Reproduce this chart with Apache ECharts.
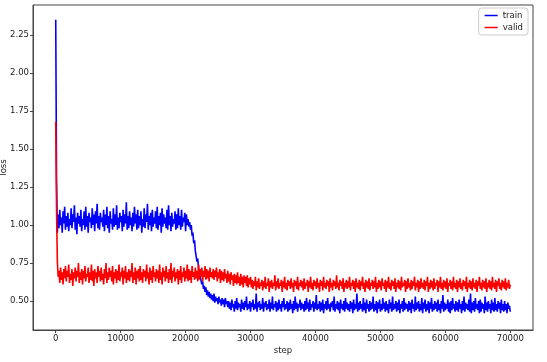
<!DOCTYPE html>
<html>
<head>
<meta charset="utf-8">
<script src="https://cdn.jsdelivr.net/npm/echarts@6/dist/echarts.min.js"></script>
<style>html,body{margin:0;padding:0;background:#fff}#c{width:547px;height:362px}</style>
</head>
<body>
<div id="c"></div>
<script>
const STEP_SIZE = 125;
const xTicks = [0, 10000, 20000, 30000, 40000, 50000, 60000, 70000];
const yTicks = [0.50, 0.75, 1.00, 1.25, 1.50, 1.75, 2.00, 2.25];
const seriesNames = ['train', 'valid'];

const trainLoss = [
  2.35, 1.30, 0.95,
  1.07,0.98,1.10,1.00,1.05,0.95,1.09,1.01,1.12,0.97,
  1.06,0.99,1.08,0.96,1.04,1.00,1.11,0.98,1.07,1.02,
  1.13,0.97,1.05,0.94,1.08,1.01,1.06,0.99,1.10,0.96,
  1.04,1.00,1.09,0.97,1.12,0.99,1.06,0.95,1.08,1.02,
  1.05,0.98,1.11,1.00,1.07,0.96,1.09,1.01,1.14,0.98,
  1.06,0.97,1.08,1.02,1.05,0.99,1.10,0.96,1.07,1.00,
  1.12,0.98,1.06,0.95,1.09,1.01,1.04,0.97,1.11,0.99,
  1.07,1.00,1.13,0.97,1.05,0.98,1.08,1.02,1.06,0.96,
  1.10,0.99,1.07,1.01,1.15,0.97,1.06,0.98,1.09,1.00,
  1.05,0.96,1.08,0.99,1.12,1.01,1.07,0.97,1.10,0.98,
  1.06,1.00,1.09,0.95,1.04,0.99,1.11,0.98,1.07,1.02,
  1.14,0.97,1.06,1.00,1.08,0.96,1.10,0.99,1.05,1.01,
  1.09,0.98,1.12,0.97,1.06,1.00,1.08,0.95,1.11,0.99,
  1.07,1.01,1.05,0.98,1.10,0.97,1.13,1.00,1.06,0.96,
  1.08,0.99,1.04,1.01,1.09,0.97,1.07,0.98,1.11,1.00,
  1.06,0.97,1.10,0.99,1.05,1.02,1.08,0.96,1.07,1.00,
  1.04,0.99,
  1.02,0.97,1.00,0.93,0.95,0.88,0.90,0.83,0.84,0.76,
  0.78,0.71,0.72,0.66,0.67,0.61,0.63,0.58,0.60,0.56,
  0.59,0.54,0.57,0.53,0.56,0.52,0.55,0.51,0.54,0.50,
  0.55,0.49,0.53,0.50,0.52,0.48,0.53,0.49,0.51,0.47,
  0.52,0.48,0.51,0.46,0.52,0.48,0.50,0.46,
  0.50,0.45,0.49,0.44,0.51,0.46,0.48,0.43,0.50,0.45,
  0.52,0.44,0.49,0.46,0.48,0.43,0.51,0.45,0.49,0.44,
  0.50,0.46,0.53,0.44,0.48,0.45,0.50,0.43,0.49,0.46,
  0.51,0.44,0.48,0.45,0.55,0.43,0.49,0.46,0.50,0.44,
  0.48,0.45,0.52,0.43,0.49,0.46,0.50,0.44,0.48,0.45,
  0.51,0.43,0.49,0.45,0.53,0.44,0.48,0.46,0.50,0.43,
  0.49,0.44,0.51,0.45,0.48,0.43,0.50,0.46,0.52,0.44,
  0.48,0.45,0.50,0.43,0.49,0.44,0.51,0.45,0.48,0.42,
  0.50,0.44,0.53,0.45,0.49,0.43,0.48,0.46,0.51,0.44,
  0.49,0.45,0.48,0.43,0.50,0.44,0.52,0.45,0.49,0.43,
  0.51,0.44,0.48,0.46,0.50,0.43,0.49,0.45,0.54,0.44,
  0.48,0.45,0.50,0.43,0.49,0.44,0.51,0.42,0.48,0.45,
  0.50,0.44,0.52,0.45,0.48,0.43,0.49,0.46,0.50,0.44,
  0.53,0.43,0.48,0.45,0.50,0.44,0.49,0.42,0.51,0.45,
  0.48,0.44,0.50,0.43,0.52,0.45,0.49,0.44,0.48,0.43,
  0.50,0.45,0.49,0.42,0.51,0.44,0.48,0.45,0.55,0.43,
  0.49,0.44,0.50,0.45,0.48,0.43,0.52,0.44,0.49,0.42,
  0.51,0.45,0.48,0.43,0.50,0.44,0.49,0.45,0.53,0.43,
  0.48,0.44,0.50,0.42,0.49,0.45,0.51,0.43,0.48,0.44,
  0.52,0.45,0.49,0.43,0.50,0.44,0.48,0.42,0.51,0.45,
  0.49,0.43,0.53,0.44,0.48,0.45,0.50,0.43,0.49,0.44,
  0.51,0.42,0.48,0.45,0.50,0.43,0.52,0.44,0.49,0.45,
  0.48,0.43,0.50,0.44,0.49,0.42,0.51,0.45,0.48,0.43,
  0.53,0.44,0.49,0.45,0.50,0.43,0.48,0.44,0.52,0.42,
  0.49,0.45,0.51,0.43,0.48,0.44,0.50,0.42,0.49,0.45,
  0.52,0.43,0.48,0.44,0.50,0.45,0.49,0.43,0.51,0.44,
  0.48,0.42,0.50,0.45,0.54,0.43,0.49,0.44,0.48,0.45,
  0.51,0.43,0.49,0.42,0.50,0.44,0.52,0.45,0.48,0.43,
  0.50,0.44,0.49,0.43,0.51,0.45,0.48,0.42,0.50,0.44,
  0.53,0.43,0.49,0.45,0.48,0.44,0.51,0.43,0.55,0.42,
  0.49,0.44,0.50,0.43,0.52,0.45,0.48,0.44,0.50,0.42,
  0.51,0.43,0.49,0.45,0.48,0.42,0.53,0.44,0.49,0.43,
  0.50,0.45,0.48,0.42,0.51,0.44,0.49,0.43,0.52,0.44,
  0.48,0.43,0.50,0.45,0.49,0.42,0.51,0.44,0.48,0.43,
  0.50,0.44,0.48,0.42,0.49,0.45,0.47,0.43
];

const validLoss = [
  1.68, 1.10, 0.76,
  0.66,0.70,0.62,0.72,0.64,0.69,0.61,0.71,0.65,0.73,
  0.63,0.70,0.66,0.74,0.62,0.68,0.64,0.71,0.60,0.69,
  0.65,0.72,0.63,0.70,0.66,0.75,0.62,0.69,0.64,0.71,
  0.61,0.70,0.65,0.73,0.63,0.68,0.66,0.72,0.62,0.69,
  0.64,0.74,0.63,0.70,0.60,0.71,0.65,0.69,0.62,0.73,
  0.66,0.70,0.63,0.72,0.64,0.68,0.61,0.71,0.65,0.75,
  0.62,0.69,0.64,0.72,0.66,0.70,0.63,0.73,0.61,0.69,
  0.65,0.71,0.62,0.70,0.64,0.74,0.63,0.69,0.66,0.72,
  0.61,0.70,0.65,0.73,0.62,0.69,0.64,0.71,0.63,0.70,
  0.66,0.75,0.62,0.69,0.64,0.72,0.61,0.70,0.65,0.71,
  0.63,0.73,0.64,0.69,0.62,0.71,0.66,0.70,0.63,0.74,
  0.65,0.69,0.61,0.72,0.64,0.70,0.62,0.73,0.66,0.69,
  0.63,0.71,0.65,0.70,0.62,0.74,0.64,0.69,0.61,0.72,
  0.66,0.70,0.63,0.73,0.65,0.69,0.62,0.71,0.64,0.75,
  0.62,0.70,0.66,0.72,0.63,0.69,0.65,0.71,0.61,0.70,
  0.64,0.73,0.62,0.69,0.66,0.72,0.63,0.70,0.65,0.74,
  0.63,0.71,0.64,0.70,0.62,0.73,0.66,0.69,0.64,0.72,
  0.65,0.70,0.63,0.74,0.64,0.71,0.66,0.72,0.63,0.70,
  0.66,0.73,0.64,0.71,0.65,0.70,0.63,0.72,0.66,0.69,
  0.65,0.71,0.64,0.70,0.66,0.72,0.63,0.69,0.65,0.71,
  0.62,0.70,0.64,0.69,0.63,0.71,0.65,0.68,0.62,0.70,
  0.63,0.68,0.61,0.69,0.64,0.67,0.60,0.68,0.62,0.67,
  0.61,0.69,0.62,0.66,0.60,0.68,0.61,0.66,0.59,0.67,
  0.62,0.66,0.60,0.67,0.59,0.65,0.61,0.66,
  0.59,0.64,0.58,0.63,0.60,0.66,0.57,0.63,0.59,0.65,
  0.58,0.62,0.60,0.64,0.57,0.63,0.59,0.66,0.58,0.62,
  0.60,0.65,0.56,0.63,0.59,0.64,0.58,0.62,0.60,0.67,
  0.57,0.63,0.59,0.65,0.58,0.62,0.60,0.64,0.56,0.63,
  0.59,0.66,0.58,0.62,0.57,0.64,0.60,0.63,0.58,0.65,
  0.59,0.62,0.56,0.64,0.60,0.63,0.58,0.66,0.57,0.62,
  0.60,0.64,0.59,0.63,0.57,0.65,0.58,0.62,0.60,0.64,
  0.56,0.63,0.59,0.66,0.58,0.62,0.57,0.64,0.60,0.63,
  0.58,0.65,0.59,0.62,0.56,0.64,0.60,0.63,0.57,0.66,
  0.59,0.62,0.58,0.64,0.60,0.63,0.56,0.65,0.59,0.62,
  0.57,0.64,0.60,0.63,0.58,0.67,0.59,0.62,0.57,0.64,
  0.60,0.63,0.58,0.65,0.56,0.62,0.59,0.64,0.58,0.63,
  0.59,0.66,0.57,0.62,0.60,0.64,0.58,0.63,0.56,0.65,
  0.59,0.62,0.58,0.64,0.57,0.63,0.60,0.66,0.58,0.62,
  0.56,0.64,0.59,0.63,0.58,0.65,0.57,0.62,0.60,0.64,
  0.58,0.63,0.59,0.66,0.56,0.62,0.58,0.64,0.59,0.63,
  0.57,0.65,0.60,0.62,0.58,0.64,0.56,0.63,0.59,0.66,
  0.58,0.62,0.57,0.64,0.60,0.63,0.58,0.65,0.56,0.62,
  0.59,0.64,0.58,0.63,0.57,0.66,0.59,0.62,0.60,0.64,
  0.56,0.63,0.58,0.65,0.59,0.62,0.57,0.64,0.58,0.63,
  0.60,0.66,0.57,0.62,0.59,0.64,0.56,0.63,0.58,0.65,
  0.59,0.62,0.58,0.64,0.57,0.63,0.60,0.66,0.56,0.62,
  0.58,0.64,0.59,0.63,0.57,0.65,0.58,0.62,0.60,0.64,
  0.56,0.63,0.59,0.66,0.58,0.62,0.57,0.64,0.59,0.63,
  0.58,0.65,0.56,0.62,0.60,0.64,0.58,0.63,0.57,0.66,
  0.59,0.62,0.58,0.64,0.56,0.63,0.59,0.65,0.58,0.62,
  0.57,0.64,0.60,0.63,0.58,0.66,0.56,0.62,0.59,0.64,
  0.58,0.63,0.57,0.65,0.59,0.62,0.58,0.64,0.56,0.63,
  0.60,0.66,0.58,0.62,0.57,0.64,0.59,0.63,0.58,0.65,
  0.56,0.62,0.59,0.64,0.58,0.63,0.57,0.66,0.59,0.62,
  0.58,0.64,0.56,0.63,0.60,0.65,0.58,0.62,0.57,0.64,
  0.59,0.63,0.58,0.65,0.57,0.62,0.59,0.64,0.58,0.61
];

const steps = trainLoss.map((_, i) => i * STEP_SIZE);

const FONT = 'DejaVu Sans';
const chart = echarts.init(document.getElementById('c'), null, {renderer: 'canvas'});
chart.setOption({
  animation: false,
  backgroundColor: '#fff',
  textStyle: {fontFamily: FONT},
  grid: {left: 33, right: 14, top: 5, bottom: 32, containLabel: false, outerBoundsMode: 'none',
         show: true, borderColor: '#444', borderWidth: 1},
  legend: {
    orient: 'vertical', right: 19, top: 8,
    data: seriesNames,
    icon: 'rect', itemWidth: 13, itemHeight: 1.5, itemGap: 3,
    padding: [3, 5, 3, 6],
    backgroundColor: '#fff', borderColor: '#ccc', borderWidth: 1, borderRadius: 3,
    textStyle: {fontFamily: FONT, fontSize: 8.5, color: '#222'}
  },
  xAxis: {
    type: 'value', min: -3500, max: 73500,
    name: 'step', nameLocation: 'middle', nameGap: 16, nameMoveOverlap: false,
    nameTextStyle: {fontFamily: FONT, fontSize: 8.5, color: '#222'},
    splitLine: {show: false},
    axisLine: {show: true, onZero: false, lineStyle: {color: '#444', width: 1}},
    axisTick: {show: true, length: 3, customValues: xTicks, lineStyle: {color: '#444'}},
    axisLabel: {customValues: xTicks, fontSize: 8.5, color: '#222', margin: 4, fontFamily: FONT,
      formatter: v => String(v)}
  },
  yAxis: {
    type: 'value', min: 0.31, max: 2.447,
    name: 'loss', nameLocation: 'middle', nameGap: 25, nameMoveOverlap: false,
    nameTextStyle: {fontFamily: FONT, fontSize: 8.5, color: '#222'},
    splitLine: {show: false},
    axisLine: {show: true, onZero: false, lineStyle: {color: '#444', width: 1}},
    axisTick: {show: true, length: 3, customValues: yTicks, lineStyle: {color: '#444'}},
    axisLabel: {customValues: yTicks, fontSize: 8.5, color: '#222', margin: 4, fontFamily: FONT,
      formatter: v => v.toFixed(2)}
  },
  series: [
    {name: seriesNames[0], type: 'line', symbol: 'none', data: steps.map((s, i) => [s, trainLoss[i]]),
     lineStyle: {color: '#0000ff', width: 1.6}, itemStyle: {color: '#0000ff'}},
    {name: seriesNames[1], type: 'line', symbol: 'none', data: steps.map((s, i) => [s, validLoss[i]]),
     lineStyle: {color: '#ff0000', width: 1.6}, itemStyle: {color: '#ff0000'}}
  ]
});
</script>
</body>
</html>
